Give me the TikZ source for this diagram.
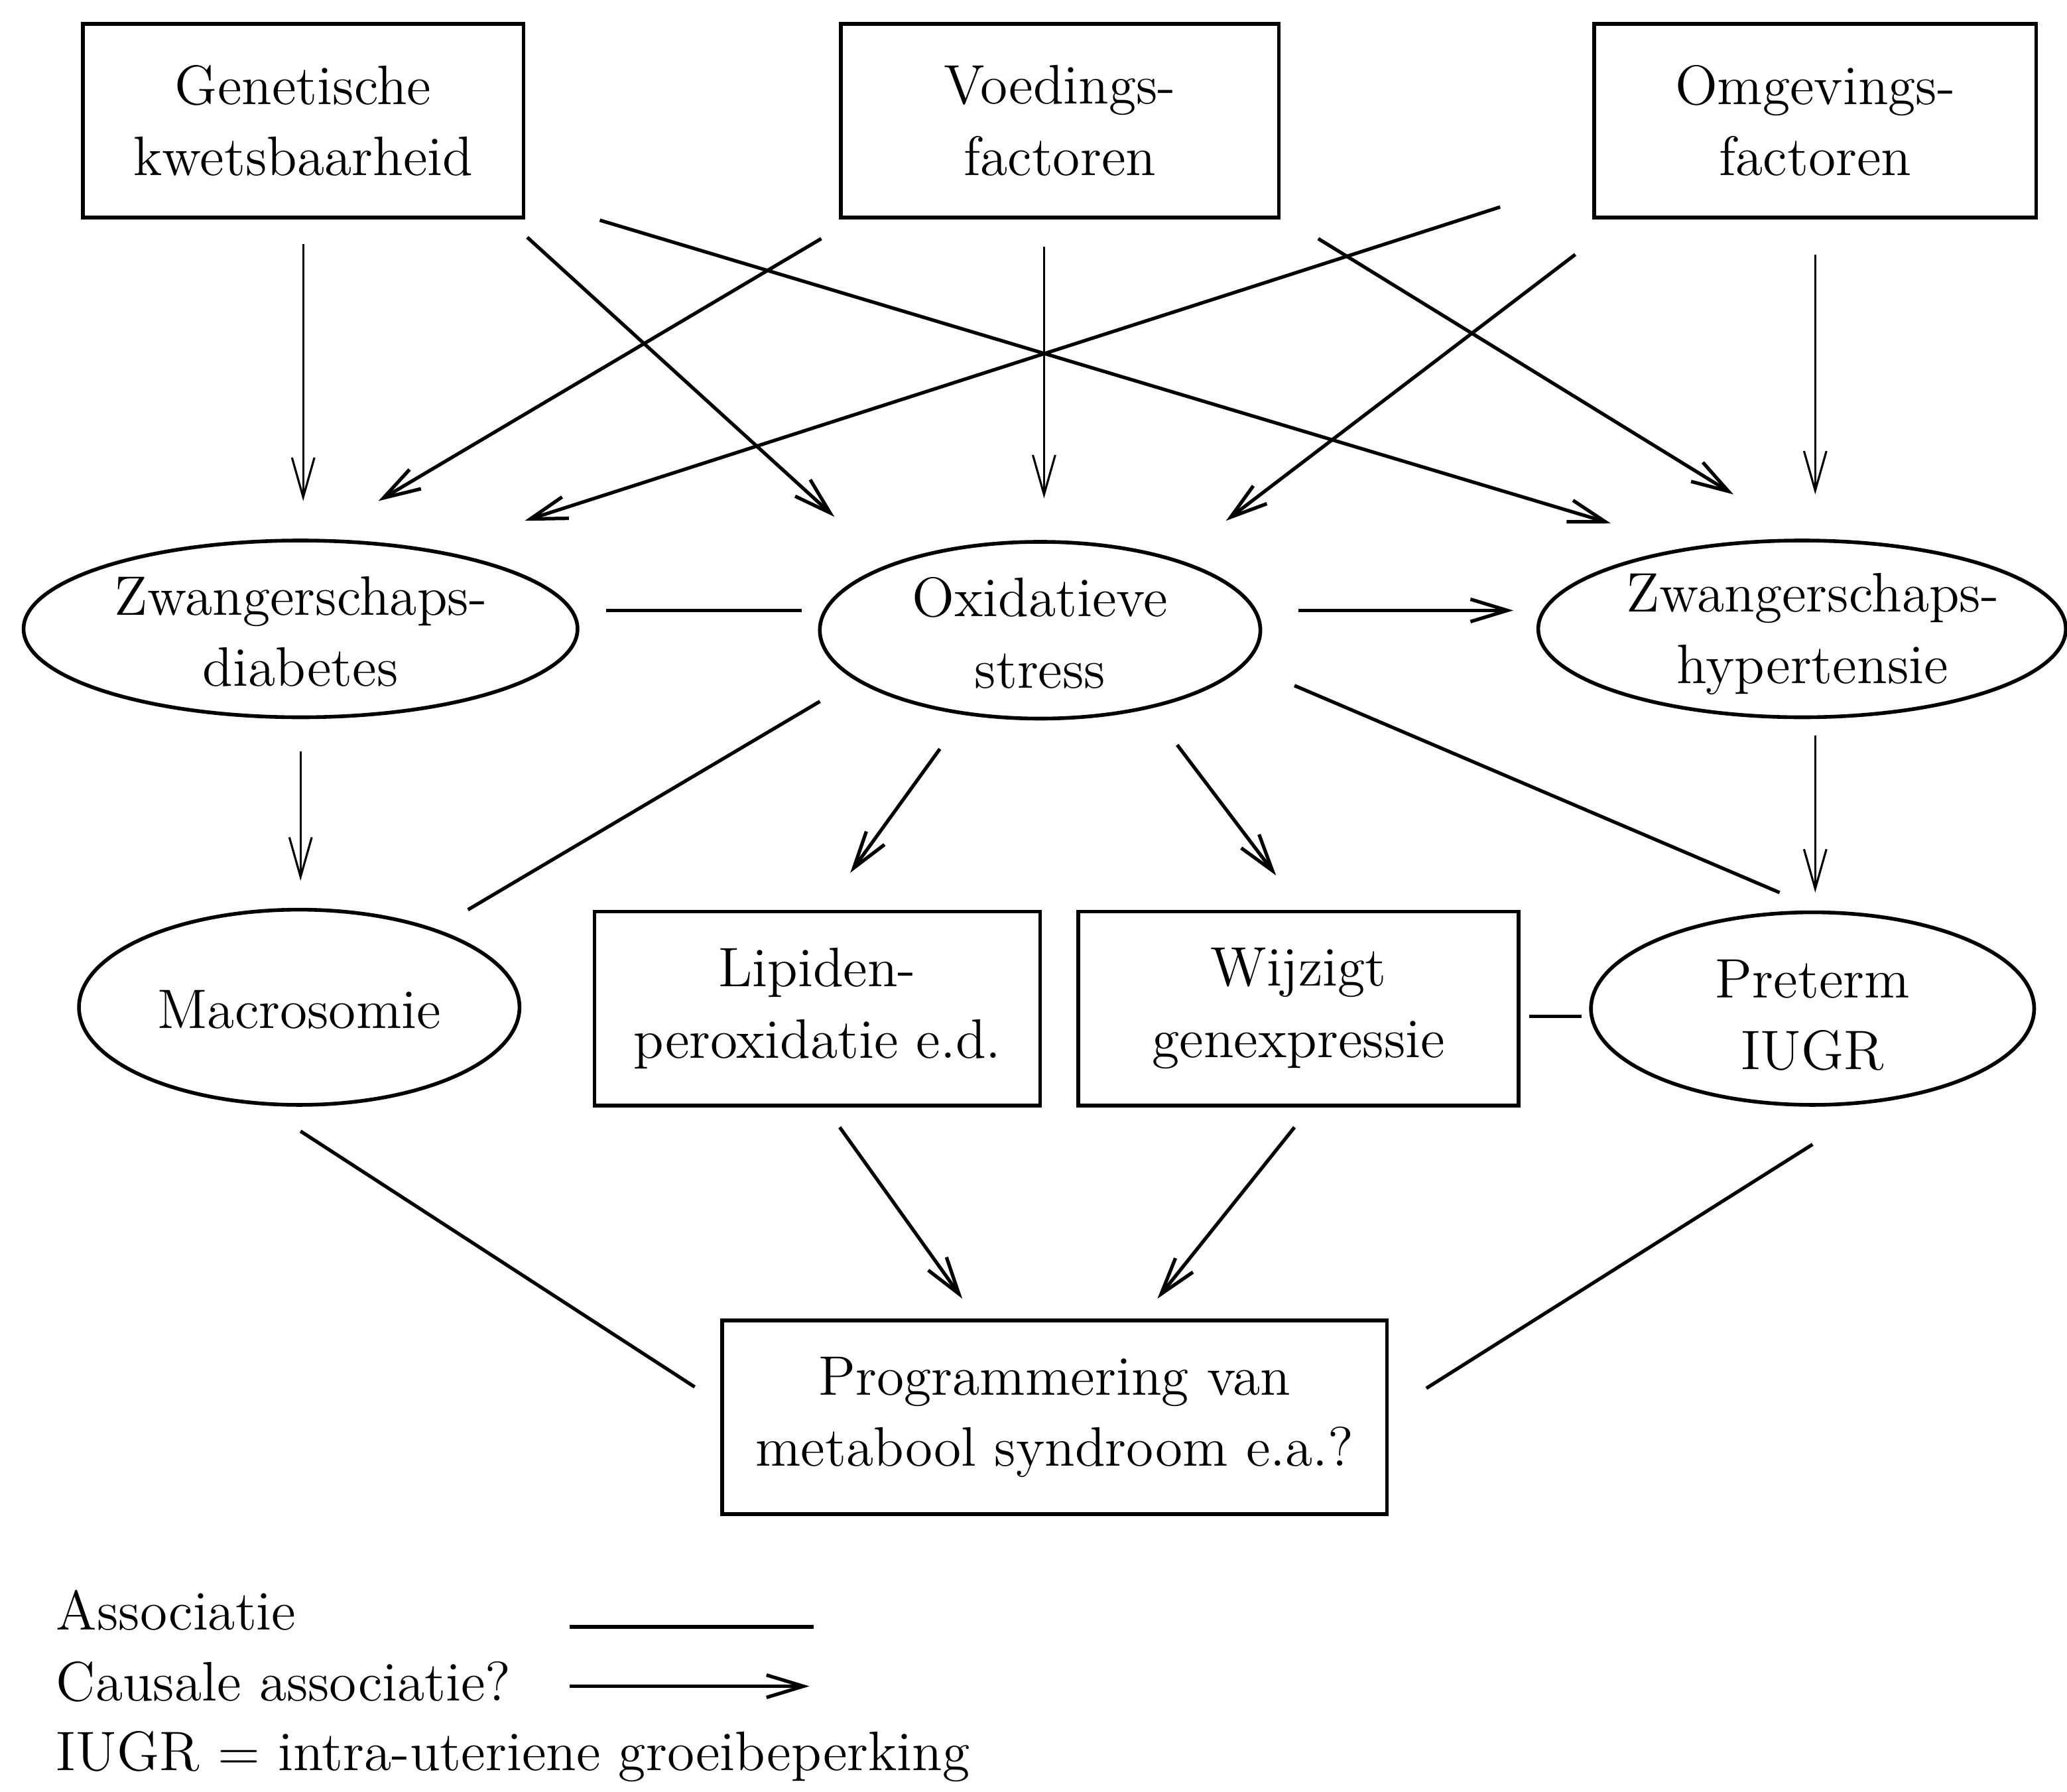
\documentclass[tikz,border=0pt]{standalone}
\usetikzlibrary{shapes.geometric,arrows.meta,calc}
\begin{document}
\begin{tikzpicture}[x=0.01cm,y=-0.01cm,
  txt/.style={font=\fontsize{12}{15.4}\selectfont, align=center, inner sep=0pt},
  box/.style={draw, line width=0.8pt, rectangle, minimum width=#1, minimum height=1.47cm, inner sep=0pt, txt},
  ell/.style 2 args={draw, line width=0.8pt, ellipse, minimum width=#1, minimum height=#2, inner sep=0pt},
  assoc/.style={line width=0.75pt},
  cause/.style={line width=0.75pt, -{Straight Barb[length=0.28cm,width=0.17cm]}},
  causethin/.style={line width=0.45pt, -{Straight Barb[length=0.3cm,width=0.17cm]}},
]
\useasboundingbox (0,0) rectangle (1568,1359);

% top row boxes
\node[box=3.34cm] (gen) at (230,91.5) {Genetische\\kwetsbaarheid};
\node[box=3.32cm] (voed) at (804,91.5) {Voedings-\\factoren};
\node[box=3.35cm] (omg) at (1377,91.5) {Omgevings-\\factoren};

% middle row ellipses
\node[ell={4.2cm}{1.34cm}] (zd) at (228,477) {};
\node[txt] (zdt) at (228,479) {Zwangerschaps-\\diabetes};
\node[ell={3.34cm}{1.34cm}] (ox) at (789,478) {};
\node[txt] (oxt) at (789,480) {Oxidatieve\\stress};
\node[ell={4.0cm}{1.34cm}] (zh) at (1367,477) {};
\node[txt] (zht) at (1375,481) {Zwangerschaps-\\hypertensie};

% third row
\node[ell={3.34cm}{1.48cm}] (mac) at (227,764) {};
\node[txt] (mact) at (227,766) {Macrosomie};
\node[box=3.38cm] (lip) at (620,765) {Lipiden-\\peroxidatie e.d.};
\node[box=3.34cm] (wij) at (985,765) {Wijzigt\\genexpressie};
\node[ell={3.36cm}{1.46cm}] (pre) at (1375,765) {};
\node[txt] (pret) at (1375,770) {Preterm\\IUGR};

% bottom
\node[box=5.04cm] (prog) at (800,1075) {Programmering van\\metabool syndroom e.a.?};

% arrows from top row
\draw[causethin] ($(gen)+(0,93.5)$) -- ($(zd)+(2,-97)$);
\draw[cause] ($(gen)+(170,88.5)$) -- ($(ox)+(-156,-86)$);
\draw[cause] ($(gen)+(225,75.5)$) -- ($(zh)+(-145,-80)$);
\draw[cause] ($(voed)+(-181,89.5)$) -- ($(zd)+(59,-97)$);
\draw[causethin] ($(voed)+(-12,95.5)$) -- ($(ox)+(3,-100)$);
\draw[cause] ($(voed)+(196,89.5)$) -- ($(zh)+(-52,-102)$);
\draw[cause] ($(omg)+(-239,65.5)$) -- ($(zd)+(170,-82)$);
\draw[cause] ($(omg)+(-182,101.5)$) -- ($(ox)+(141,-83)$);
\draw[causethin] ($(omg)+(0,101.5)$) -- ($(zh)+(10,-102)$);

% middle connections
\draw[assoc] ($(zd)+(232,-14)$) -- ($(ox)+(-181,-15)$);
\draw[cause] ($(ox)+(196,-15)$) -- ($(zh)+(-219,-14)$);
\draw[causethin] ($(zd)+(0,93)$) -- ($(mac)+(1,-96)$);
\draw[assoc] ($(ox)+(-167,54)$) -- ($(mac)+(128,-74)$);
\draw[cause] ($(ox)+(-76,90)$) -- ($(lip)+(25,-103)$);
\draw[cause] ($(ox)+(104,87)$) -- ($(wij)+(-17,-101)$);
\draw[assoc] ($(ox)+(193,42)$) -- ($(pre)+(-25,-88)$);
\draw[causethin] ($(zh)+(10,81)$) -- ($(pre)+(2,-88)$);
\draw[assoc] ($(wij)+(175,6)$) -- ($(pre)+(-175,6)$);

% bottom connections
\draw[assoc] ($(mac)+(1,94)$) -- ($(prog)+(-273,-23)$);
\draw[cause] ($(lip)+(17,90)$) -- ($(prog)+(-70,-90)$);
\draw[cause] ($(wij)+(-3,90)$) -- ($(prog)+(78,-90)$);
\draw[assoc] ($(pre)+(0,103)$) -- ($(prog)+(282,-22)$);

% legend
\node[txt, anchor=base west] (leg1) at (42,1236) {Associatie};
\node[txt, anchor=base west] (leg2) at (42,1290) {Causale associatie?};
\node[txt, anchor=base west] (leg3) at (42,1343) {IUGR = intra-uteriene groeibeperking};
\coordinate (la1) at (432,1234);
\coordinate (lb1) at (617,1234);
\coordinate (la2) at (432,1279);
\coordinate (lb2) at (614,1279);
\draw[assoc] (la1) -- (lb1);
\draw[cause] (la2) -- (lb2);
\end{tikzpicture}
\end{document}
